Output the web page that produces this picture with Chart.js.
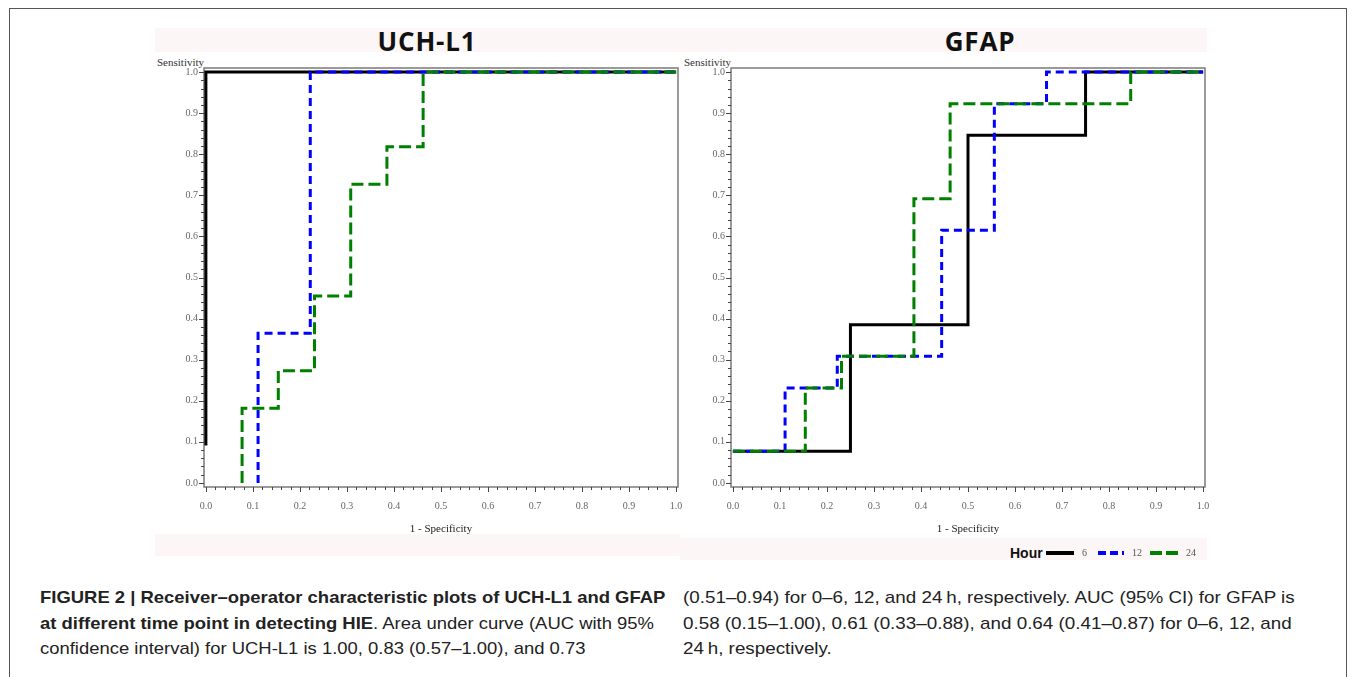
<!DOCTYPE html>
<html>
<head>
<meta charset="utf-8">
<script src="https://cdn.jsdelivr.net/npm/chart.js@4.4.1/dist/chart.umd.min.js"></script>
<style>
  html, body { margin: 0; padding: 0; background: #fff; }
  body { width: 1355px; height: 677px; position: relative; overflow: hidden; }
  .frame { position: absolute; left: 9px; top: 8px; width: 1338px; height: 690px; border: 1.5px solid #555; box-sizing: border-box; }
  .band { position: absolute; background: #fdf6f6; }
  .title { position: absolute; top: 26px; width: 200px; margin-left: -100px; text-align: center;
           font-family: 'Open Sans', sans-serif; font-weight: 700; font-size: 26px; letter-spacing: 0.8px;
           line-height: 30px; color: #111; }
  .ylab { position: absolute; top: 56px; font-family: 'Liberation Serif', serif; font-size: 11px; color: #333; }
  .box { position: absolute; top: 60px; width: 535px; height: 480px; }
  .legend { position: absolute; top: 543px; left: 1010px; height: 20px; font-family: 'Liberation Serif', serif; font-size: 10px; color: #555; }
  .legend span { position: absolute; top: 0; line-height: 20px; white-space: nowrap; }
  .legend .hour { font-family: 'Liberation Sans', sans-serif; font-weight: 700; font-size: 14px; color: #111; }
  .legend i { position: absolute; top: 8px; height: 4px; }
  .caption { position: absolute; top: 585px; font-family: 'Liberation Sans', sans-serif;
             font-size: 17px; line-height: 25.5px; color: #222; white-space: nowrap; transform-origin: 0 0; }
</style>
</head>
<body>
<div class="frame"></div>
<div class="band" style="left:155px; top:28px; width:1052px; height:24px;"></div>
<div class="band" style="left:155px; top:534px; width:525px; height:22px;"></div>
<div class="band" style="left:680px; top:538px; width:527px; height:22px;"></div>
<div class="title" style="left:427px;">UCH-L1</div>
<div class="title" style="left:980px;">GFAP</div>
<div class="ylab" style="left:157px;">Sensitivity</div>
<div class="ylab" style="left:684px;">Sensitivity</div>
<div class="box" style="left:150px;"><canvas id="uch"></canvas></div>
<div class="box" style="left:677px;"><canvas id="gfap"></canvas></div>
<div class="legend">
  <span class="hour" style="left:0;">Hour</span>
  <i style="left:36px; width:28px; background:#000; height:3.5px;"></i>
  <span style="left:72px;">6</span>
  <i style="left:88px; width:26px; background:repeating-linear-gradient(90deg,#0000ff 0 8px,transparent 8px 12px);"></i>
  <span style="left:122px;">12</span>
  <i style="left:140px; width:32px; background:repeating-linear-gradient(90deg,#008000 0 12px,transparent 12px 16px);"></i>
  <span style="left:176px;">24</span>
</div>
<div class="caption" id="capL" style="left:40px;">
  <div><b>FIGURE 2 | Receiver–operator characteristic plots of UCH-L1 and GFAP</b></div>
  <div><b>at different time point in detecting HIE</b>. Area under curve (AUC with 95%</div>
  <div>confidence interval) for UCH-L1 is 1.00, 0.83 (0.57–1.00), and 0.73</div>
</div>
<div class="caption" id="capR" style="left:683px;">
  <div>(0.51–0.94) for 0–6, 12, and 24&#8201;h, respectively. AUC (95% CI) for GFAP is</div>
  <div>0.58 (0.15–1.00), 0.61 (0.33–0.88), and 0.64 (0.41–0.87) for 0–6, 12, and</div>
  <div>24&#8201;h, respectively.</div>
</div>
<script>
// ROC points (1 - specificity, sensitivity), drawn as step curves
const uch6X = [0, 0, 1];
const uch6Y = [0.091, 1, 1];
const uch12X = [0.111, 0.111, 0.222, 1];
const uch12Y = [0, 0.364, 1, 1];
const uch24X = [0.077, 0.077, 0.154, 0.231, 0.308, 0.385, 0.462, 1];
const uch24Y = [0, 0.182, 0.273, 0.455, 0.727, 0.818, 1, 1];

const gfap6X = [0, 0.25, 0.5, 0.75, 1];
const gfap6Y = [0.077, 0.385, 0.846, 1, 1];
const gfap12X = [0, 0.111, 0.222, 0.444, 0.556, 0.667, 1];
const gfap12Y = [0.077, 0.231, 0.308, 0.615, 0.923, 1, 1];
const gfap24X = [0, 0.154, 0.231, 0.385, 0.462, 0.846, 1];
const gfap24Y = [0.077, 0.231, 0.308, 0.692, 0.923, 1, 1];

const hours = ['6', '12', '24'];
const tickValues = [0, 0.1, 0.2, 0.3, 0.4, 0.5, 0.6, 0.7, 0.8, 0.9, 1.0];
const tickLabels = ['0.0', '0.1', '0.2', '0.3', '0.4', '0.5', '0.6', '0.7', '0.8', '0.9', '1.0'];

const lineStyles = [
    { color: '#000000', dash: [] },
    { color: '#0000ff', dash: [8, 5] },
    { color: '#008000', dash: [12, 5] }
];

const toPoints = (xs, ys) => xs.map((x, i) => ({ x: x, y: ys[i] }));

// plot frame plus SAS-style major/minor ticks
const framePlugin = {
    id: 'frame',
    beforeDatasetsDraw(chart) {
        const { ctx, chartArea: a, scales } = chart;
        ctx.save();
        ctx.strokeStyle = '#7a7a7a';
        ctx.lineWidth = 1.5;
        ctx.strokeRect(a.left, a.top, a.right - a.left, a.bottom - a.top);
        ctx.strokeStyle = '#444';
        ctx.lineWidth = 1;
        ctx.beginPath();
        for (let k = 0; k <= 50; k++) {
            const v = k / 50;
            const len = k % 5 === 0 ? 5 : 3;
            const px = Math.round(scales.x.getPixelForValue(v)) + 0.5;
            ctx.moveTo(px, a.bottom);
            ctx.lineTo(px, a.bottom + len);
            const py = Math.round(scales.y.getPixelForValue(v)) + 0.5;
            ctx.moveTo(a.left, py);
            ctx.lineTo(a.left - len, py);
        }
        ctx.stroke();
        ctx.restore();
    }
};

const tickFont = { family: 'Liberation Serif', size: 10 };

function makeChart(id, series) {
    const ctx = document.getElementById(id).getContext('2d');
    return new Chart(ctx, {
        type: 'scatter',
        data: {
            datasets: series.map((pts, i) => ({
                label: hours[i],
                data: pts,
                showLine: true,
                stepped: 'before',
                borderColor: lineStyles[i].color,
                borderDash: lineStyles[i].dash,
                borderWidth: 3,
                pointRadius: 0,
                order: 3 - i
            }))
        },
        options: {
            responsive: true,
            maintainAspectRatio: false,
            animation: false,
            layout: { padding: { top: 8, right: 7, bottom: 0, left: 0 } },
            plugins: { legend: { display: false }, tooltip: { enabled: false } },
            scales: {
                x: {
                    type: 'linear', min: -0.004, max: 1.004,
                    afterBuildTicks: s => { s.ticks = tickValues.map(v => ({ value: v })); },
                    afterFit: s => { s.height = 53; s.paddingLeft = 0; s.paddingRight = 0; },
                    grid: { display: false, drawTicks: false },
                    border: { display: false },
                    ticks: { padding: 13, color: '#666', font: tickFont, maxRotation: 0, autoSkip: false,
                             callback: (v, i) => tickLabels[i] },
                    title: { display: true, text: '1 - Specificity', color: '#222',
                             font: { family: 'Liberation Serif', size: 11 }, padding: { top: 0, bottom: 4 } }
                },
                y: {
                    type: 'linear', min: -0.01, max: 1.01,
                    afterBuildTicks: s => { s.ticks = tickValues.map(v => ({ value: v })); },
                    afterFit: s => { s.width = 54; s.paddingTop = 0; s.paddingBottom = 0; },
                    grid: { display: false, drawTicks: false },
                    border: { display: false },
                    ticks: { padding: 6, color: '#666', font: tickFont, autoSkip: false,
                             callback: (v, i) => tickLabels[i] }
                }
            }
        },
        plugins: [framePlugin]
    });
}

makeChart('uch', [toPoints(uch6X, uch6Y), toPoints(uch12X, uch12Y), toPoints(uch24X, uch24Y)]);
makeChart('gfap', [toPoints(gfap6X, gfap6Y), toPoints(gfap12X, gfap12Y), toPoints(gfap24X, gfap24Y)]);

// squeeze caption columns to the condensed width of the printed figure
const capL = document.getElementById('capL');
const capR = document.getElementById('capR');
capL.style.transform = `scaleX(${625 / capL.offsetWidth})`;
capR.style.transform = `scaleX(${612 / capR.offsetWidth})`;
</script>
</body>
</html>
